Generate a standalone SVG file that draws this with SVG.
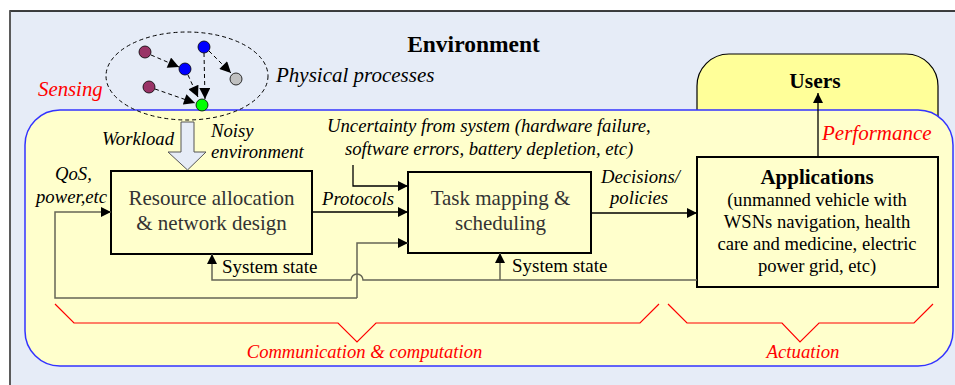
<svg xmlns="http://www.w3.org/2000/svg" width="955" height="385" viewBox="0 0 955 385" font-family="Liberation Serif, DejaVu Serif, serif">
  <defs>
    <marker id="arr" viewBox="0 0 10 10" refX="10" refY="5" markerWidth="10" markerHeight="10" markerUnits="userSpaceOnUse" orient="auto">
      <path d="M0,0 L10,5 L0,10 Z" fill="#000"/>
    </marker>
    <marker id="arrBig" viewBox="0 0 10 10" refX="10" refY="5" markerWidth="12" markerHeight="11" markerUnits="userSpaceOnUse" orient="auto">
      <path d="M0,0 L10,5 L0,10 Z" fill="#000"/>
    </marker>
    <style>
      .lbl { font-style: italic; font-size: 18.7px; fill: #000; }
      .red { font-style: italic; fill: #ff0000; }
      .box { fill: #ffffcc; stroke: #000; stroke-width: 2; }
      .boxtxt { font-size: 21px; fill: #333; text-anchor: middle; }
      .wire { fill: none; stroke: #666655; stroke-width: 1.5; }
      .wireb { fill: none; stroke: #000; stroke-width: 1.3; }
      .dash { fill: none; stroke: #000; stroke-width: 1; stroke-dasharray: 4 3; }
      .brace { fill: none; stroke: #ff0000; stroke-width: 1.2; }
      .dot { stroke: #000; stroke-width: 0.8; }
    </style>
  </defs>

  <!-- environment frame -->
  <g id="environment">
    <rect x="10" y="11" width="960" height="390" fill="#e6ecf7" stroke="#000" stroke-width="1.5"/>
    <line x1="10" y1="11" x2="10" y2="385" stroke="#666" stroke-width="1.5"/>
    <text x="473.5" y="52" font-size="23.5" font-weight="bold" text-anchor="middle">Environment</text>
  </g>

  <!-- users -->
  <g id="users">
    <rect x="697" y="54" width="241" height="120" rx="32" ry="32" fill="#ffff99" stroke="#000" stroke-width="1.2"/>
    <text x="815" y="88" font-size="21.5" font-weight="bold" text-anchor="middle">Users</text>
  </g>

  <!-- system region -->
  <g id="system">
    <rect x="25" y="110" width="928" height="256" rx="35" ry="35" fill="#ffffcc" stroke="#3333ff" stroke-width="1.5"/>
  </g>

  <!-- physical processes -->
  <g id="physical-processes">
    <ellipse cx="187" cy="76" rx="81" ry="44" class="dash"/>
    <line x1="151" y1="55" x2="179" y2="67" class="dash" marker-end="url(#arrBig)"/>
    <line x1="188" y1="75" x2="198" y2="97" class="dash" marker-end="url(#arrBig)"/>
    <line x1="204" y1="53" x2="205" y2="99" class="dash" marker-end="url(#arrBig)"/>
    <line x1="209" y1="51" x2="231" y2="73" class="dash" marker-end="url(#arrBig)"/>
    <line x1="155" y1="89" x2="195" y2="103" class="dash" marker-end="url(#arrBig)"/>
    <circle cx="145" cy="52" r="6" fill="#993366" class="dot"/>
    <circle cx="185" cy="69" r="6" fill="#0000ff" class="dot"/>
    <circle cx="204" cy="47" r="6" fill="#0000ff" class="dot"/>
    <circle cx="236" cy="79" r="6" fill="#c0c0c0" class="dot"/>
    <circle cx="149" cy="87" r="6" fill="#993366" class="dot"/>
    <circle cx="202" cy="105" r="6" fill="#00ff00" class="dot"/>
    <text x="276" y="82" font-size="21" font-style="italic">Physical processes</text>
    <text x="38" y="96" class="red" font-size="20.8">Sensing</text>
  </g>

  <!-- workload input -->
  <g id="workload">
    <path d="M181,122 L194,122 L194,152 L206,152 L187.5,170 L168,152 L181,152 Z" fill="#e6ecf7" stroke="#555" stroke-width="1"/>
    <text x="102" y="145" class="lbl">Workload</text>
    <text x="211" y="137" class="lbl">Noisy</text>
    <text x="211" y="158" class="lbl">environment</text>
  </g>

  <!-- resource allocation -->
  <g id="resource-allocation">
    <rect x="111" y="171" width="201" height="83" class="box"/>
    <text x="211.5" y="205" class="boxtxt">Resource allocation</text>
    <text x="211.5" y="230" class="boxtxt">&amp; network design</text>
  </g>

  <!-- task mapping -->
  <g id="task-mapping">
    <rect x="408" y="172" width="183" height="81" class="box"/>
    <text x="500.5" y="205" class="boxtxt">Task mapping &amp;</text>
    <text x="500.5" y="230" class="boxtxt">scheduling</text>
  </g>

  <!-- applications -->
  <g id="applications">
    <rect x="697" y="157" width="241" height="130" class="box"/>
    <text x="817" y="184" font-size="21" font-weight="bold" text-anchor="middle">Applications</text>
    <g font-size="18.6" text-anchor="middle" fill="#000">
      <text x="817" y="206">(unmanned vehicle with</text>
      <text x="817" y="228">WSNs navigation, health</text>
      <text x="817" y="250">care and medicine, electric</text>
      <text x="817" y="272">power grid, etc)</text>
    </g>
  </g>

  <!-- connectors -->
  <g id="connectors">
    <!-- QoS feedback into resource allocation -->
    <path d="M357,298 L55,298 L55,212 L111,212" class="wire" marker-end="url(#arr)"/>
    <!-- feedback into task mapping -->
    <path d="M357,298 L357,243 L408,243" class="wire" marker-end="url(#arr)"/>
    <!-- system state back from applications, hopping over the feedback line -->
    <path d="M697,280 L363,280 A6,6 0 0 0 351,280 L212,280 L212,254" class="wire" marker-end="url(#arr)"/>
    <path d="M500,280 L500,253" class="wire" marker-end="url(#arr)"/>
    <!-- protocols -->
    <path d="M312,212 L408,212" class="wireb" marker-end="url(#arr)"/>
    <!-- uncertainty -->
    <path d="M353,165 L353,186 L408,186" class="wireb" marker-end="url(#arr)"/>
    <!-- decisions / policies -->
    <path d="M591,213 L697,213" class="wireb" marker-end="url(#arr)"/>
    <!-- performance -->
    <path d="M818,157 L818,93" class="wireb" marker-end="url(#arr)"/>

    <text x="55" y="180" class="lbl">QoS,</text>
    <text x="36" y="203" class="lbl">power,etc</text>
    <text x="322" y="205" class="lbl">Protocols</text>
    <text x="327" y="132" class="lbl">Uncertainty from system (hardware failure,</text>
    <text x="345" y="155" class="lbl">software errors, battery depletion, etc)</text>
    <text x="601" y="183" class="lbl">Decisions/</text>
    <text x="610" y="204" class="lbl">policies</text>
    <text x="222" y="273" font-size="19">System state</text>
    <text x="512" y="272" font-size="19">System state</text>
    <text x="822" y="140" class="red" font-size="21">Performance</text>
  </g>

  <!-- layer braces -->
  <g id="braces">
    <path d="M55,304 L74,323 L338,323 L357,342 L376,323 L640,323 L659,304" class="brace"/>
    <path d="M668,304 L687,323 L782,323 L800,342 L819,323 L914,323 L933,304" class="brace"/>
    <text x="364.5" y="358" class="red" font-size="18.6" text-anchor="middle">Communication &amp; computation</text>
    <text x="803" y="358" class="red" font-size="18.8" text-anchor="middle">Actuation</text>
  </g>
</svg>
